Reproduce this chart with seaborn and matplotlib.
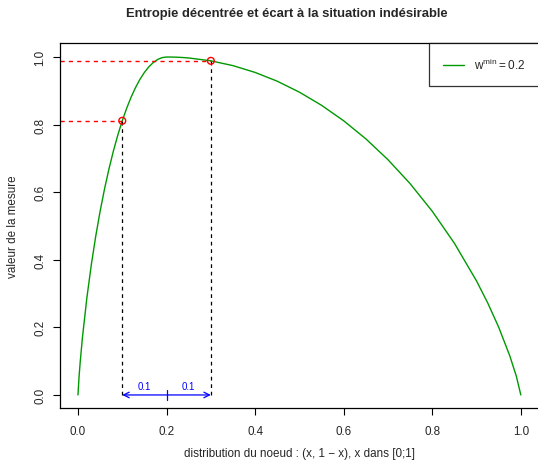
import matplotlib
matplotlib.use("Agg")
import matplotlib.pyplot as plt
import seaborn as sns
import pandas as pd

# Curve values (decentred entropy, w_min = 0.2)
x_vals = [0.0, 0.0025, 0.005, 0.01, 0.02, 0.03, 0.04, 0.05, 0.06, 0.07, 0.08,
          0.09, 0.10, 0.11, 0.12, 0.13, 0.14, 0.15, 0.16, 0.17, 0.18, 0.19,
          0.20, 0.21, 0.22, 0.23, 0.24, 0.25, 0.30, 0.35, 0.40, 0.45, 0.50,
          0.55, 0.60, 0.65, 0.70, 0.75, 0.80, 0.85, 0.90, 0.925, 0.95, 0.975,
          0.99, 1.0]
y_vals = [0.0, 0.0548, 0.0969, 0.1687, 0.2864, 0.3843, 0.4690, 0.5436, 0.6098,
          0.6690, 0.7219, 0.7692, 0.8113, 0.8485, 0.8813, 0.9097, 0.9341,
          0.9544, 0.9710, 0.9837, 0.9928, 0.9982, 1.0, 0.9999, 0.9996, 0.9990,
          0.9982, 0.9972, 0.9887, 0.9745, 0.9544, 0.9284, 0.8960, 0.8571,
          0.8113, 0.7579, 0.6962, 0.6253, 0.5436, 0.4489, 0.3373, 0.2730,
          0.2006, 0.1161, 0.0548, 0.0]

pts_x = [0.1, 0.3]
pts_y = [0.8113, 0.9887]
gap_labels = ["0.1", "0.1"]
w_min = 0.2

title = "Entropie décentrée et écart à la situation indésirable"
xlabel = "distribution du noeud : (x, 1 \u2212 x), x dans [0;1]"
ylabel = "valeur de la mesure"
ticks = [0.0, 0.2, 0.4, 0.6, 0.8, 1.0]

sns.set_style("white")
plt.rcParams["font.family"] = ["Liberation Sans", "DejaVu Sans"]
plt.rcParams["mathtext.fontset"] = "custom"
plt.rcParams["mathtext.rm"] = "Liberation Sans"

fig = plt.figure(figsize=(5.38, 4.64), dpi=100)
ax = fig.add_axes([0.112, 0.1175, 0.889, 0.7866])

df = pd.DataFrame({"x": x_vals, "y": y_vals})
sns.lineplot(data=df, x="x", y="y", ax=ax, color="#009900", linewidth=1.0,
             estimator=None, sort=False, label=r"$\mathregular{w^{min} = 0.2}$")

# guide lines
for px, py in zip(pts_x, pts_y):
    ax.plot([-0.04, px], [py, py], color="#ff0000", linestyle=(0, (3, 3)), linewidth=1.0)
    ax.plot([px, px], [0, py], color="black", linestyle=(0, (3, 3)), linewidth=0.9)

sns.scatterplot(x=pts_x, y=pts_y, ax=ax, marker="o", s=24, facecolors="none",
                edgecolor="#ff0000", linewidth=1.0, zorder=5, legend=False)

# double arrow at y = 0
ax.annotate("", xy=(pts_x[0], 0), xytext=(pts_x[1], 0),
            arrowprops=dict(arrowstyle="<->", color="blue", lw=0.9,
                            shrinkA=0, shrinkB=0, mutation_scale=10))
ax.plot([w_min, w_min], [-0.015, 0.015], color="blue", linewidth=0.9)
ax.text((pts_x[0] + w_min) / 2, 0.013, gap_labels[0], color="blue",
        fontsize=7, ha="center", va="bottom")
ax.text((pts_x[1] + w_min) / 2, 0.013, gap_labels[1], color="blue",
        fontsize=7, ha="center", va="bottom")

ax.set_xlim(-0.04, 1.04)
ax.set_ylim(-0.04, 1.04)
ax.set_xticks(ticks)
ax.set_yticks(ticks)
ax.set_xticklabels([f"{t:.1f}" for t in ticks], fontsize=8.4)
ax.set_yticklabels([f"{t:.1f}" for t in ticks], fontsize=8.4, rotation=90, va="center")
ax.tick_params(axis="both", direction="out", length=5, width=0.8, color="black",
               bottom=True, left=True, pad=7)
ax.tick_params(axis="y", pad=5)
for s in ax.spines.values():
    s.set_color("black")
    s.set_linewidth(0.9)
ax.set_xlabel(xlabel, fontsize=8.4, labelpad=7)
ax.set_ylabel(ylabel, fontsize=8.4, labelpad=11)

fig.text(287 / 538, 1 - 14 / 464, title, fontsize=9.4, fontweight="bold",
         ha="center", va="center")

leg = ax.legend(loc="upper right", bbox_to_anchor=(1.0, 1.0), frameon=True,
                fancybox=False, fontsize=8.5, handlelength=1.8, borderpad=1.15,
                handletextpad=0.8, borderaxespad=0.0)
leg.get_frame().set_edgecolor("black")
leg.get_frame().set_linewidth(0.9)

fig.savefig("out.png", dpi=100)
